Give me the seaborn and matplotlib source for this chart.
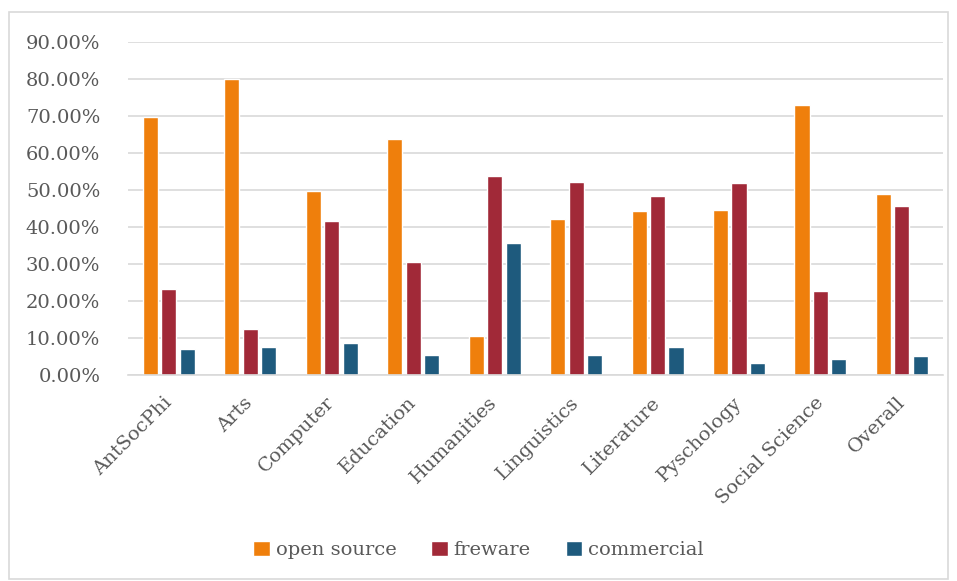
import matplotlib
matplotlib.use("Agg")
import matplotlib.pyplot as plt
import seaborn as sns
import pandas as pd
from matplotlib.ticker import PercentFormatter
from matplotlib.patches import Rectangle

categories = ["AntSocPhi", "Arts", "Computer", "Education", "Humanities",
              "Linguistics", "Literature", "Pyschology", "Social Science", "Overall"]
open_source = [69.7, 80.0, 49.7, 63.8, 10.6, 42.2, 44.2, 44.7, 72.9, 48.9]
freware = [23.2, 12.4, 41.7, 30.6, 53.7, 52.2, 48.3, 51.8, 22.7, 45.8]
commercial = [7.1, 7.6, 8.6, 5.4, 35.7, 5.4, 7.6, 3.2, 4.4, 5.2]
series_names = ["open source", "freware", "commercial"]
colors = ["#EF7F0C", "#A12938", "#1E5A7D"]

rows = []
for name, vals in zip(series_names, [open_source, freware, commercial]):
    for cat, v in zip(categories, vals):
        rows.append({"category": cat, "type": name, "value": v / 100})
df = pd.DataFrame(rows)

sns.set_style("white")
plt.rcParams["font.family"] = ["DejaVu Serif"]
text_color = "#595959"

fig = plt.figure(figsize=(9.57, 5.81), dpi=100)
ax = fig.add_axes([0.1338, 0.3546, 0.8512, 0.5731])

sns.barplot(data=df, x="category", y="value", hue="type", palette=colors,
            order=categories, hue_order=series_names, width=0.68, gap=0.18,
            saturation=1, ax=ax, legend=True)

ax.set_ylim(0, 0.9)
ax.set_yticks([i / 10 for i in range(10)])
ax.yaxis.set_major_formatter(PercentFormatter(1.0, decimals=2))
ax.set_xlim(-0.5, len(categories) - 0.5)
ax.grid(axis="y", color="#d9d9d9", linewidth=1.2)
ax.set_axisbelow(True)
for s in ["top", "right", "left"]:
    ax.spines[s].set_visible(False)
ax.spines["bottom"].set_color("#d9d9d9")
ax.spines["bottom"].set_linewidth(1.2)
ax.tick_params(axis="both", length=0, colors=text_color, labelsize=14)
ax.tick_params(axis="y", pad=20)
ax.tick_params(axis="x", pad=18)
ax.set_xlabel("")
ax.set_ylabel("")
plt.setp(ax.get_xticklabels(), rotation=45, ha="right", va="center",
         rotation_mode="anchor")

ax.legend(loc="center", bbox_to_anchor=(0.5, 0.053), bbox_transform=fig.transFigure,
          ncol=3, frameon=False, fontsize=14, labelcolor=text_color,
          handlelength=0.85, handleheight=0.85, handletextpad=0.3, columnspacing=1.8)

fig.patches.append(Rectangle((0.009, 0.003), 0.982, 0.976, transform=fig.transFigure,
                             fill=False, edgecolor="#d9d9d9", linewidth=1.2))

fig.savefig("out.png", dpi=100)
